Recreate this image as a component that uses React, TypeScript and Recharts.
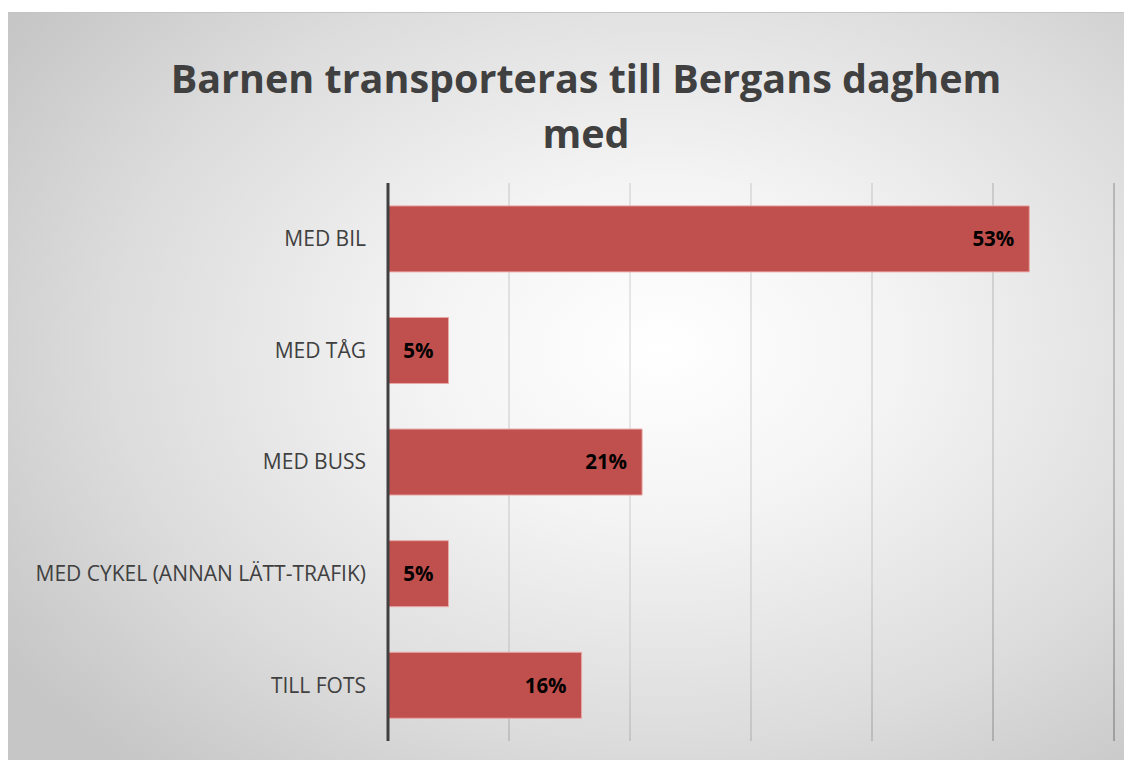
import React from "react";
import { BarChart, Bar, XAxis, YAxis, CartesianGrid, LabelList } from "recharts";

const categories = ["MED BIL", "MED TÅG", "MED BUSS", "MED CYKEL (ANNAN LÄTT-TRAFIK)", "TILL FOTS"];
const shares = [53, 5, 21, 5, 16];
const xTicks = [0, 10, 20, 30, 40, 50, 60];

const data = categories.map((name, i) => ({ name, value: shares[i] }));

const FONT = "'Open Sans', 'Liberation Sans', sans-serif";

export default function App() {
  return (
    <div
      style={{
        position: "relative",
        width: 1124,
        height: 748,
        marginTop: 4,
        overflow: "hidden",
        borderTop: "1px solid #c4c4c4",
        boxSizing: "border-box",
        background:
          "radial-gradient(ellipse 70% 75% at 58% 45%, #ffffff 0%, #f4f4f4 30%, #dcdcdc 70%, #c6c6c6 100%)",
        fontFamily: FONT,
      }}
    >
      <div
        style={{
          position: "absolute",
          left: 0,
          top: 38,
          width: 1156,
          textAlign: "center",
          fontSize: 39.5,
          fontWeight: 700,
          lineHeight: "55px",
          color: "#404040",
        }}
      >
        Barnen transporteras till Bergans daghem
        <br />
        med
      </div>
      <BarChart
        width={1124}
        height={748}
        data={data}
        layout="vertical"
        margin={{ top: 170, right: 18, bottom: 20, left: 0 }}
        barCategoryGap="20.5%"
        style={{ position: "absolute", left: 0, top: 0 }}
      >
        <defs>
          <radialGradient id="gridGrad" gradientUnits="userSpaceOnUse" cx={650} cy={340} r={620}>
            <stop offset="0%" stopColor="#e2e2e2" />
            <stop offset="50%" stopColor="#cfcfcf" />
            <stop offset="100%" stopColor="#8a8a8a" />
          </radialGradient>
        </defs>
        <CartesianGrid horizontal={false} stroke="url(#gridGrad)" strokeWidth={1.5} />
        <XAxis type="number" domain={[0, 60]} ticks={xTicks} hide />
        <YAxis
          type="category"
          dataKey="name"
          width={380}
          tickSize={0}
          tickMargin={22}
          axisLine={{ stroke: "#404040", strokeWidth: 3 }}
          tickLine={false}
          tick={{ fill: "#404040", fontSize: 21, fontFamily: FONT }}
        />
        <Bar dataKey="value" fill="#c0504d" stroke="#e8a9a7" strokeWidth={1} isAnimationActive={false}>
          <LabelList
            dataKey="value"
            position="insideRight"
            offset={15}
            formatter={(v: number) => `${v}%`}
            style={{ fill: "#000000", fontSize: 20.5, fontWeight: 700, fontFamily: FONT }}
          />
        </Bar>
      </BarChart>
    </div>
  );
}
